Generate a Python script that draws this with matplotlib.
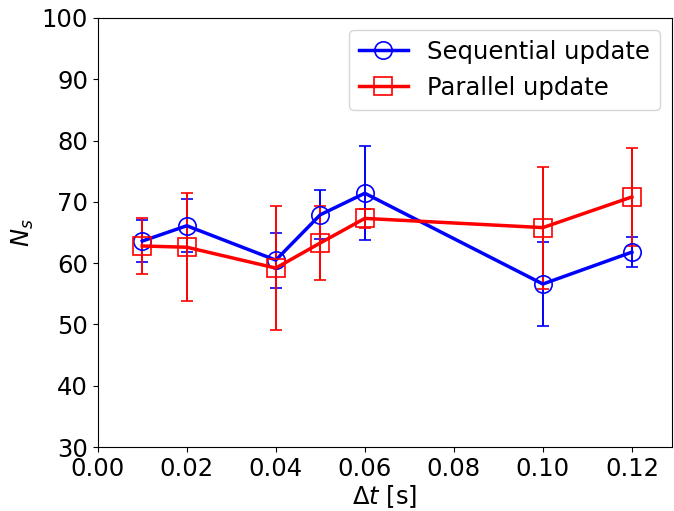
import matplotlib
matplotlib.use("Agg")
import matplotlib.pyplot as plt
from matplotlib.lines import Line2D

dt = [0.01, 0.02, 0.04, 0.05, 0.06, 0.10, 0.12]
seq_mean = [63.6, 66.1, 60.5, 67.9, 71.4, 56.6, 61.8]
seq_err = [3.4, 4.3, 4.5, 4.0, 7.7, 6.85, 2.45]
par_mean = [62.8, 62.6, 59.2, 63.3, 67.3, 65.8, 70.8]
par_err = [4.6, 8.8, 10.1, 6.0, 1.6, 9.95, 8.05]

FS = 17.5
LW = 2.5
MS = 12.5
MEW = 1.2
fig = plt.figure(figsize=(6.74, 5.11), dpi=100)
ax = fig.add_axes([0.145, 0.125, 0.852, 0.840])

ax.errorbar(dt, seq_mean, yerr=seq_err, color='blue', marker='o', ms=MS,
            mfc='none', mec='blue', mew=MEW, lw=LW, elinewidth=1.4, capsize=4.6,
            capthick=3)
ax.errorbar(dt, par_mean, yerr=par_err, color='red', marker='s', ms=MS,
            mfc='none', mec='red', mew=MEW, lw=LW, elinewidth=1.4, capsize=4.6,
            capthick=3)

handles = [
    Line2D([], [], color='blue', marker='o', ms=MS, mfc='none', mec='blue',
           mew=MEW, lw=LW, label='Sequential update'),
    Line2D([], [], color='red', marker='s', ms=MS, mfc='none', mec='red',
           mew=MEW, lw=LW, label='Parallel update'),
]

ax.set_xlim(0, 0.129)
ax.set_ylim(30, 100)
ax.set_xticks([0.00, 0.02, 0.04, 0.06, 0.08, 0.10, 0.12])
ax.tick_params(labelsize=FS)
ax.set_xlabel(r'$\Delta t$ [s]', fontsize=FS, labelpad=2)
ax.set_ylabel(r'$N_s$', fontsize=FS)
ax.legend(handles=handles, loc='upper right', fontsize=FS)

fig.savefig('out.png', dpi=100)
